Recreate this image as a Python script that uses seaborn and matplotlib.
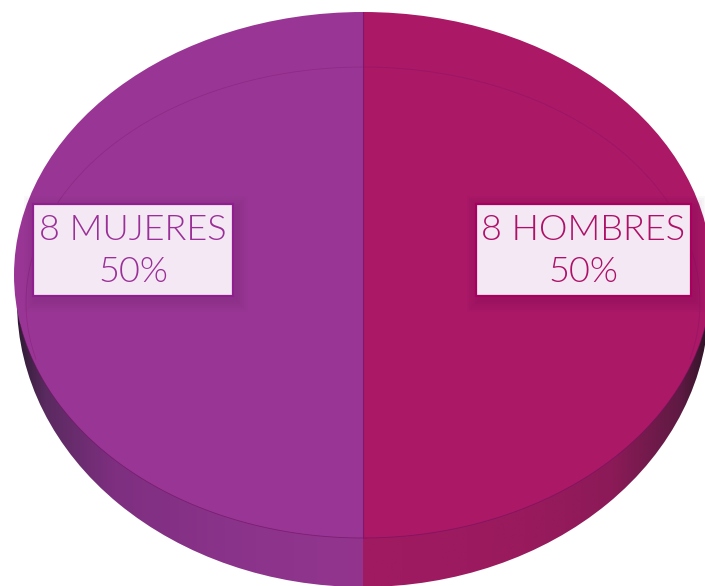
#!/usr/bin/env python3
"""Pie chart with a fake 3D rim: 8 hombres / 8 mujeres."""

import numpy as np
import matplotlib
matplotlib.use('Agg')
import matplotlib.pyplot as plt
from matplotlib.colors import LinearSegmentedColormap
from matplotlib.patches import Rectangle
import seaborn as sns

categories = ['HOMBRES', 'MUJERES']
counts = [8, 8]
percents = [50, 50]

W, H = 705, 586
CX, RX = 363, 349

face_colors = sns.color_palette(['#AA1866', '#993695'])
text_colors = ['#AE1068', '#9B2F98']
edge_colors = ['#A9005F', '#8F1F8E']
box_spans = [(476, 691), (33, 233)]

sns.set_theme(style='white')
plt.rcParams['font.family'] = ['Lato', 'DejaVu Sans']

fig = plt.figure(figsize=(W / 100, H / 100), dpi=100, facecolor='white')


def draw_pie(cy, ry, rx=RX, **kwargs):
    """Pie on full-figure axes, limits chosen so the unit circle lands on the wanted ellipse."""
    ax = fig.add_axes([0, 0, 1, 1])
    wedges, _ = ax.pie(counts, startangle=90, counterclock=False, radius=1,
                       wedgeprops={'edgecolor': 'none', 'linewidth': 0}, **kwargs)
    ax.set_aspect('auto')
    ax.set_axis_off()
    return ax, wedges, ((0 - CX) / rx, (W - CX) / rx), ((cy - H) / ry, cy / ry)


# rim of the disc: only the lower half of a taller ellipse shows
ax, wedges, xlim, ylim = draw_pie(302, 285, rx=346, colors=face_colors)
rim_maps = [
    LinearSegmentedColormap.from_list('rim_r', [(0, '#A01A62'), (0.45, '#9A1A5E'), (0.72, '#8C1A58'), (0.92, '#5E1A42'), (1, '#2E1426')]),
    LinearSegmentedColormap.from_list('rim_l', [(0, '#2E1C33'), (0.08, '#5A2A60'), (0.28, '#7E2F80'), (0.6, '#8A338A'), (1, '#93358F')]),
]
ramp = np.linspace(0, 1, 256).reshape(1, -1)
for wedge, cmap, extent in zip(wedges, rim_maps, [(0, 1, -1, 0), (-1, 0, -1, 0)]):
    wedge.set_visible(False)
    im = ax.imshow(ramp, cmap=cmap, extent=extent, aspect='auto', zorder=3)
    im.set_clip_path(wedge)
ax.set_xlim(xlim)
ax.set_ylim(ylim)

# top face with the dark seam along its lower edge and the divider
ax, wedges, xlim, ylim = draw_pie(275, 263, colors=face_colors)
theta = np.linspace(np.pi * 1.06, np.pi * 1.94, 200)
ax.plot(np.cos(theta), np.sin(theta), color='#6E1060', lw=0.6, alpha=0.6)
ax.plot([0, 0], [-1, 1], color='#84156E', lw=0.8)
ax.set_xlim(xlim)
ax.set_ylim(ylim)

# faint bevel line inside the face, fades out toward the bottom in the original
ax = fig.add_axes([0, 0, 1, 1])
theta = np.linspace(np.radians(-14), np.radians(194), 200)
ax.plot(CX + 337 * np.cos(theta), 302.5 - 235.5 * np.sin(theta), color='#80106A', lw=0.6, alpha=0.35)
ax.set_xlim(0, W)
ax.set_ylim(H, 0)
ax.set_axis_off()

# labels in pixel coordinates
ax = fig.add_axes([0, 0, 1, 1])
ax.set_xlim(0, W)
ax.set_ylim(H, 0)
ax.set_axis_off()

BOX_TOP, BOX_BOTTOM = 204, 296
for cat, count, pct, (x0, x1), tc, ec in zip(categories, counts, percents, box_spans, text_colors, edge_colors):
    # soft shadow
    for grow in range(12, 0, -2):
        ax.add_patch(Rectangle((x0 - grow + 3, BOX_TOP - grow + 4), x1 - x0 + 2 * grow, BOX_BOTTOM - BOX_TOP + 2 * grow,
                               facecolor='#501050', edgecolor='none', alpha=0.025, zorder=2))
    ax.add_patch(Rectangle((x0, BOX_TOP), x1 - x0, BOX_BOTTOM - BOX_TOP, facecolor='#F3E8F3',
                           edgecolor=ec, linewidth=1.6, zorder=3))
    xc = (x0 + x1) / 2
    ax.text(xc, 230, f'{count} {cat}', color=tc, fontsize=26, fontweight=300, ha='center', va='center', zorder=4)
    ax.text(xc, 272, f'{pct}%', color=tc, fontsize=26, fontweight=300, ha='center', va='center', zorder=4)

plt.savefig('out.png', dpi=100, facecolor='white')
